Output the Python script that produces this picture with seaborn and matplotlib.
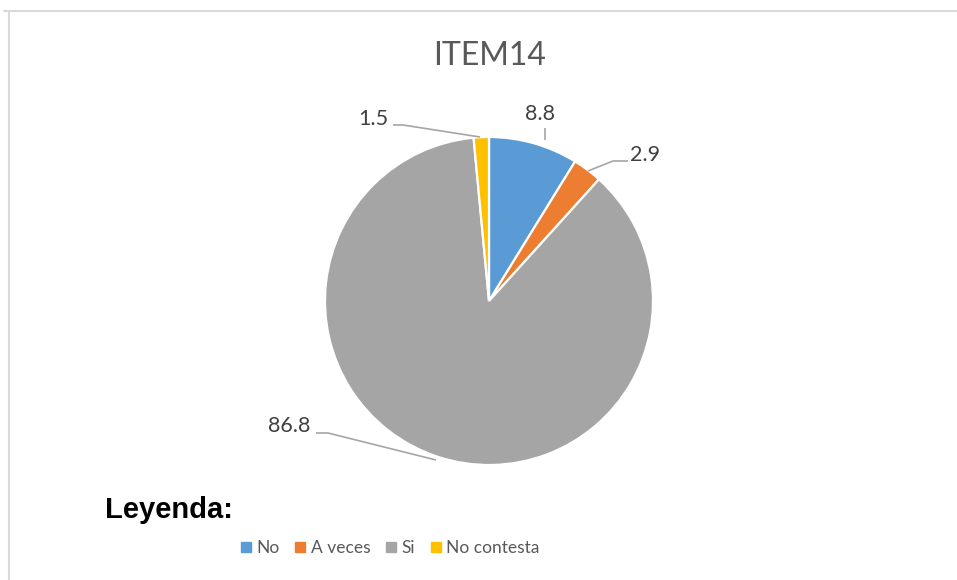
import matplotlib
matplotlib.use("Agg")
import matplotlib.pyplot as plt
from matplotlib.lines import Line2D
import seaborn as sns

# ---- data ----
categories = ["No", "A veces", "Si", "No contesta"]
values = [8.8, 2.9, 86.8, 1.5]
value_labels = ["8.8", "2.9", "86.8", "1.5"]
title = "ITEM14"
legend_title = "Leyenda:"

sns.set_theme(style="white")
plt.rcParams["font.family"] = ["Lato", "DejaVu Sans"]
colors = sns.color_palette(["#5B9BD5", "#ED7D31", "#A5A5A5", "#FFC000"])

W, H = 957, 580
fig = plt.figure(figsize=(W / 100, H / 100), dpi=100)
fig.patch.set_facecolor("white")

cx, cy, r = 489, 301, 164
ax = fig.add_axes([(cx - r) / W, (H - cy - r) / H, 2 * r / W, 2 * r / H])

ax.pie(values, colors=colors, startangle=90, counterclock=False, radius=1,
       wedgeprops=dict(edgecolor="white", linewidth=1.6))
ax.set_xlim(-1, 1)
ax.set_ylim(-1, 1)
ax.set_aspect("equal")
ax.axis("off")

# label positions and leader lines (pixel coords relative to figure)
def d(px, py):
    return ((px - cx) / r, (cy - py) / r)

label_pos = [d(540, 114), d(645, 155), d(289, 426), d(373, 119)]
leaders = [
    [d(545, 128), d(545, 140)],
    [d(588, 171), d(613, 161), d(628, 161)],
    [d(316, 433), d(328, 433), d(436, 460)],
    [d(393, 125), d(403, 125), d(480, 137)],
]
for lab, (x, y), pts in zip(value_labels, label_pos, leaders):
    ax.text(x, y, lab, ha="center", va="center", fontsize=15.5, color="#404040",
            clip_on=False)
    xs = [p[0] for p in pts]
    ys = [p[1] for p in pts]
    ax.plot(xs, ys, color="#A6A6A6", linewidth=1.2, clip_on=False,
            solid_capstyle="butt")

# title
fig.text(489.5 / W, 1 - 65 / H, title, ha="center", va="baseline",
         fontsize=23, color="#595959")

# "Leyenda:"
fig.text(105 / W, 1 - 518 / H, legend_title, ha="left", va="baseline",
         fontsize=21, fontweight="bold", color="black",
         family=["Liberation Sans", "DejaVu Sans"])

# legend
handles = [Line2D([0], [0], marker="s", linestyle="none", markersize=6.5,
                  markerfacecolor=c, markeredgecolor=c) for c in colors]
leg = fig.legend(handles, categories, loc="center", ncol=4,
                 bbox_to_anchor=(390 / W, 1 - 548 / H), frameon=False,
                 fontsize=12.5, handlelength=0.6, handletextpad=0.3,
                 columnspacing=0.9, borderaxespad=0)
for t in leg.get_texts():
    t.set_color("#595959")

# chart area border (top and left edges visible)
fig.add_artist(Line2D([4 / W, 1], [1 - 10.5 / H, 1 - 10.5 / H],
                      transform=fig.transFigure, color="#D9D9D9", linewidth=1.5))
fig.add_artist(Line2D([8.5 / W, 8.5 / W], [0, 1 - 10.5 / H],
                      transform=fig.transFigure, color="#D9D9D9", linewidth=1.5))

fig.savefig("out.png", dpi=100, facecolor="white")
